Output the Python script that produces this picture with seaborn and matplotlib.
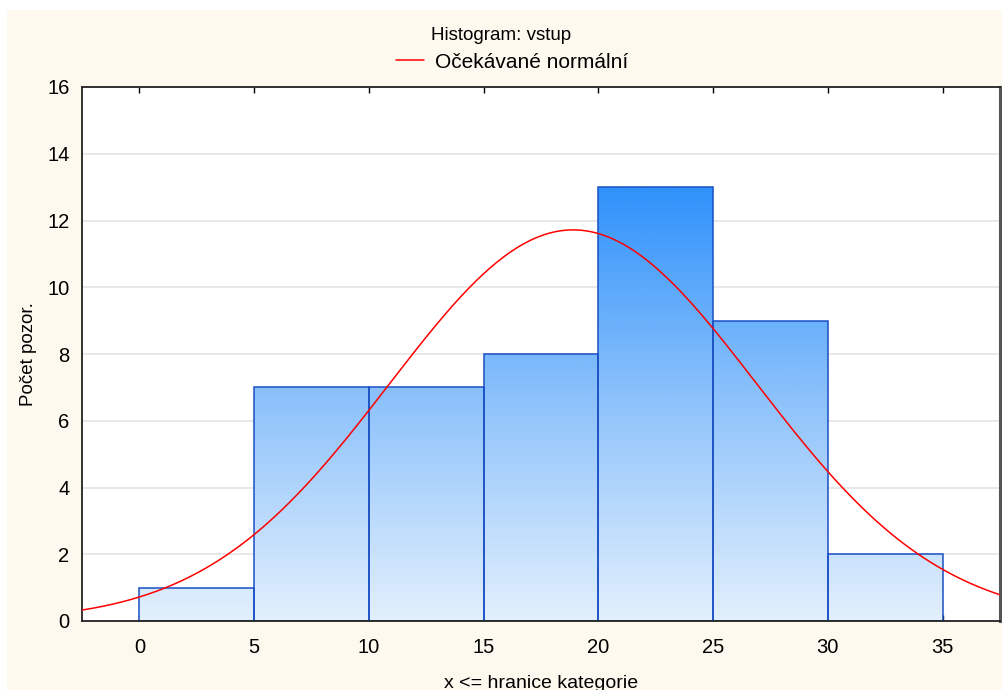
import numpy as np
import pandas as pd
import matplotlib
matplotlib.use("Agg")
import matplotlib.pyplot as plt
import seaborn as sns
from matplotlib.patches import Rectangle
from matplotlib.colors import LinearSegmentedColormap

# ---- data ----
bin_edges = [0, 5, 10, 15, 20, 25, 30, 35]
counts = [1, 7, 7, 8, 13, 9, 2]
fit_mean = 18.9
fit_sd = 8.0
x_ticks = [0, 5, 10, 15, 20, 25, 30, 35]
y_ticks = [0, 2, 4, 6, 8, 10, 12, 14, 16]
title = "Histogram: vstup"
legend_label = "Očekávané normální"
xlabel = "x <= hranice kategorie"
ylabel = "Počet pozor."

sns.set_theme(style="white")
plt.rcParams['font.family'] = ['Liberation Sans', 'DejaVu Sans']

fig = plt.figure(figsize=(10.03, 6.90), dpi=100)
fig.patch.set_facecolor("white")
fig.patches.append(Rectangle((7/1003, 0), 1, 1 - 10/690, transform=fig.transFigure,
                             facecolor="#FDF9EE", edgecolor="none", zorder=-10))
ax = fig.add_axes([82/1003, 1 - 621/690, (1000 - 82)/1003, (621 - 87)/690])
ax.set_facecolor("white")

centers = [(bin_edges[i] + bin_edges[i + 1]) / 2 for i in range(len(counts))]
df = pd.DataFrame({"x": centers, "w": counts})
sns.histplot(data=df, x="x", weights="w", bins=bin_edges, ax=ax,
             color="#7fb8ff", edgecolor="#1a4fc4", linewidth=1.1, alpha=1, zorder=2)

# gradient fill in data coordinates (light at 0, dark at 13)
cmap = LinearSegmentedColormap.from_list("g", ["#e3f0fd", "#8fc3fb", "#3092fb"])
grad = np.linspace(0, 1, 256).reshape(-1, 1)
ymax = max(counts)
for p in ax.patches:
    p.set_facecolor("none")
    im = ax.imshow(grad, cmap=cmap, aspect="auto", origin="lower",
                   extent=[bin_edges[0], bin_edges[-1], 0, ymax], zorder=1.5,
                   interpolation="bilinear")
    im.set_clip_path(p)

# expected normal curve
xs = np.linspace(-2.5, 37.5, 400)
n = sum(counts)
bw = bin_edges[1] - bin_edges[0]
ys = n * bw / (fit_sd * np.sqrt(2 * np.pi)) * np.exp(-0.5 * ((xs - fit_mean) / fit_sd) ** 2)
sns.lineplot(x=xs, y=ys, ax=ax, color="#ff0000", linewidth=1.1, zorder=3, label=legend_label)

ax.set_xlim(-2.5, 37.5)
ax.set_ylim(0, 16)
ax.set_xticks(x_ticks)
ax.set_yticks(y_ticks)
ax.tick_params(axis="x", labelsize=14.5, pad=12, direction="in", length=4, width=1,
               top=True, bottom=True, colors="black")
ax.tick_params(axis="y", labelsize=14.5, length=0, pad=9, colors="black")
ax.yaxis.grid(True, color="#e4e4e4", linewidth=1.2, zorder=0)
ax.set_axisbelow(True)
for s in ["left", "bottom", "top"]:
    ax.spines[s].set_color("#222222")
    ax.spines[s].set_linewidth(1.3)
ax.spines["right"].set_color("#555555")
ax.spines["right"].set_linewidth(2.2)

ax.set_xlabel(xlabel, fontsize=14, labelpad=13, color="black")
ax.set_ylabel(ylabel, fontsize=13.5, labelpad=7, color="black")
fig.text(0.5, 1 - 35/690, title, ha="center", va="center", fontsize=13.5, color="black")
leg = ax.legend(loc="center", bbox_to_anchor=(512/1003, 1 - 62/690), bbox_transform=fig.transFigure,
                frameon=False, fontsize=15, handlelength=1.35, handletextpad=0.5)
for t in leg.get_texts():
    t.set_color("black")

fig.savefig("out.png", dpi=100, facecolor=fig.get_facecolor())
